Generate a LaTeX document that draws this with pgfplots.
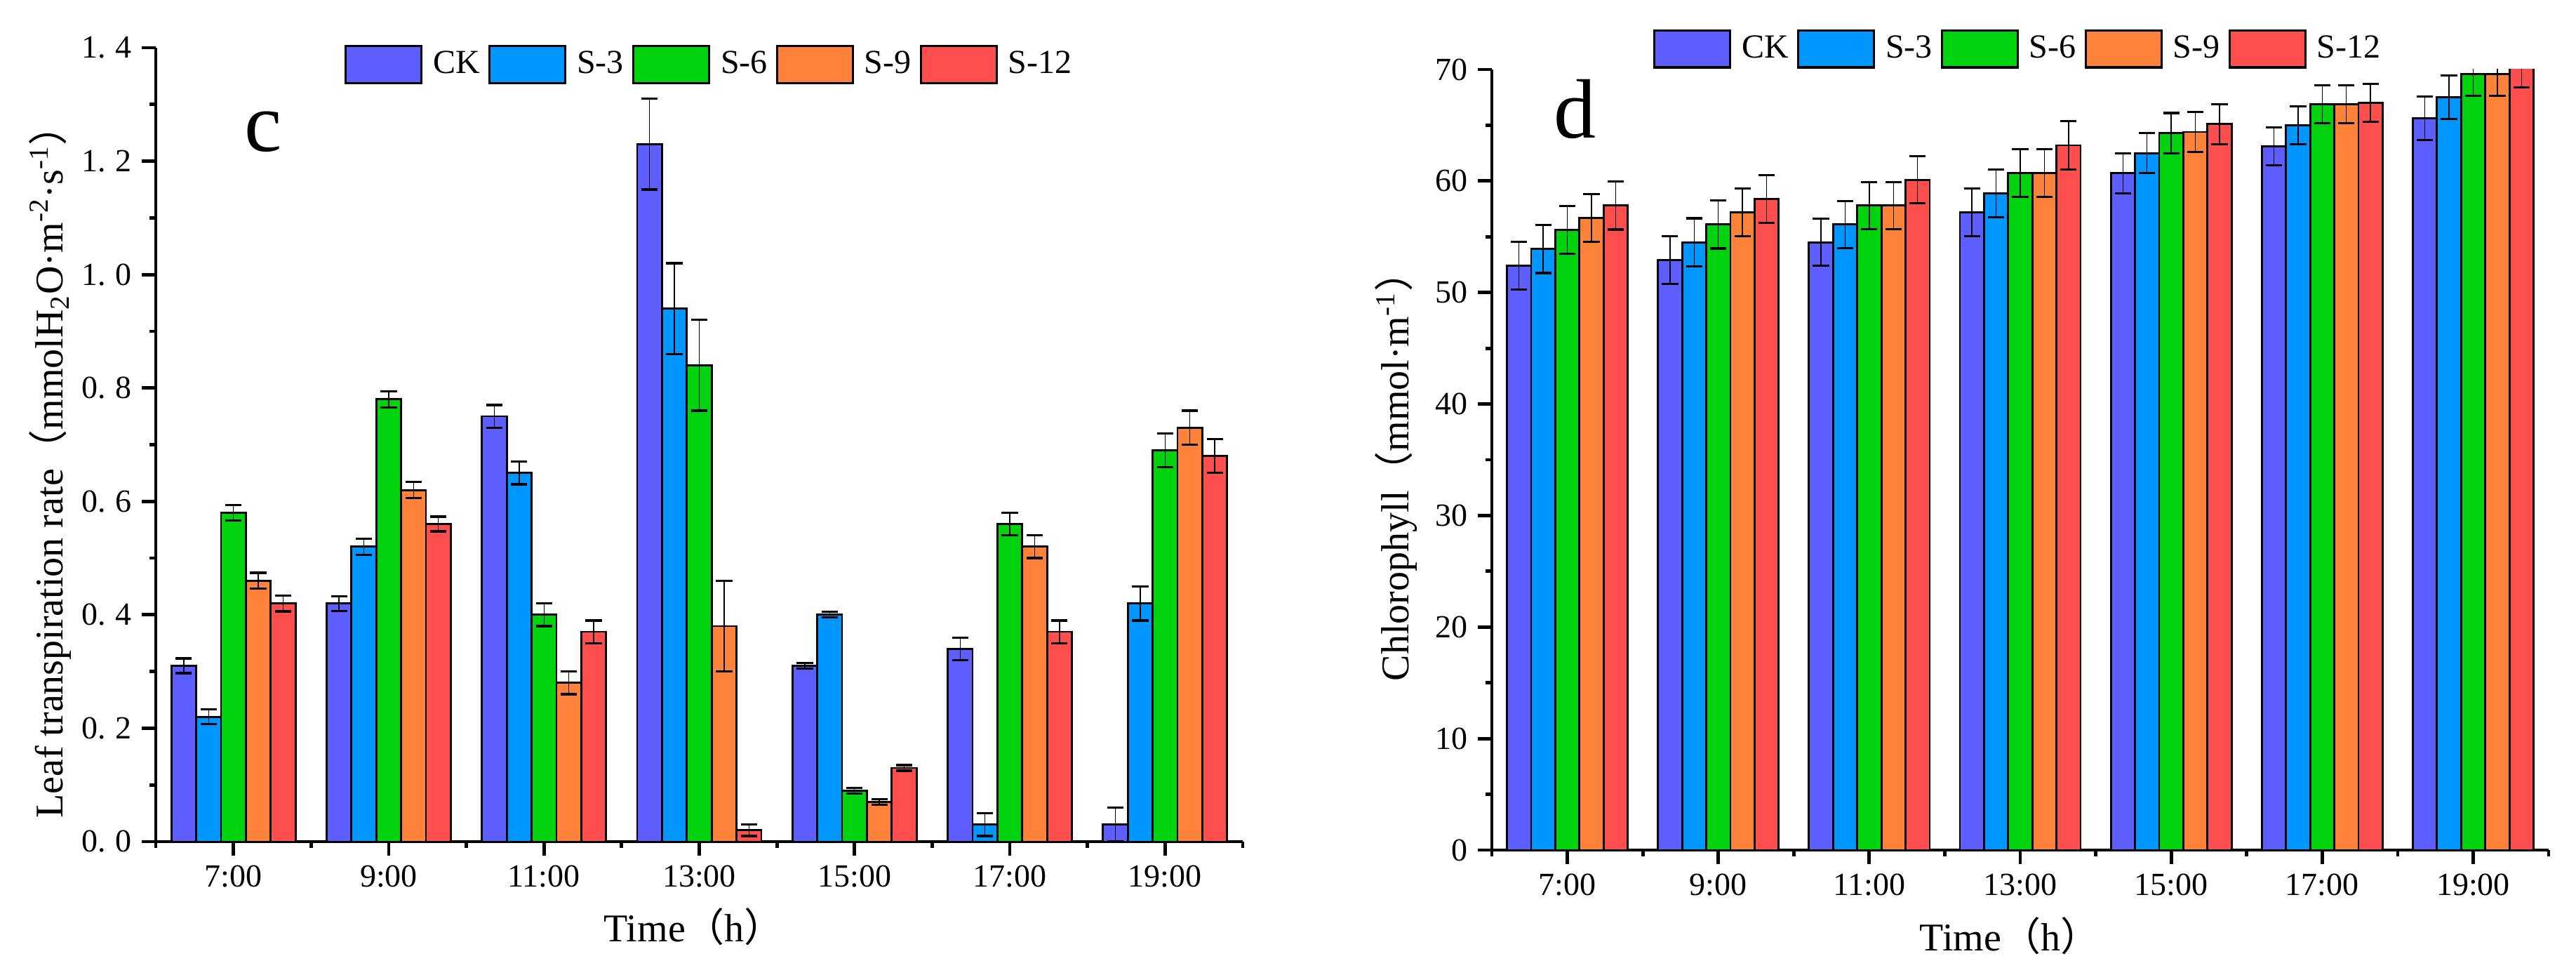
\documentclass[border=0pt]{standalone}
\usepackage{fontspec}
\setmainfont{Liberation Serif}
\newfontfamily\cjk{Noto Sans CJK SC}
\usepackage{pgfplots}
\pgfplotsset{compat=1.18}
\definecolor{cCK}{RGB}{94,94,255}
\definecolor{cS3}{RGB}{0,150,255}
\definecolor{cS6}{RGB}{0,210,14}
\definecolor{cS9}{RGB}{255,130,58}
\definecolor{cS12}{RGB}{255,78,78}
\newcommand{\lp}{{\cjk （}}
\newcommand{\rp}{{\cjk ）}}
\pgfplotsset{
  mylegend/.style={legend image code/.code={\draw[##1, draw=black, line width=0.8pt] (0pt,-6.6pt) rectangle (27pt,6.6pt);}},
  common/.style={
    scale only axis, anchor=south west,
    ybar=0pt, bar width=0.16,
    xmin=-0.5, xmax=6.5,
    xtick={0,1,2,3,4,5,6},
    xticklabels={7:00,9:00,11:00,13:00,15:00,17:00,19:00},
    minor xtick={-0.5,0.5,1.5,2.5,3.5,4.5,5.5,6.5},
    axis x line*=bottom, axis y line*=left,
    tick align=outside,
    major tick length=5pt, minor tick length=2.3pt,
    tick style={black, line width=1.2pt},
    axis line style={black, line width=1.2pt},
    ticklabel style={font=\fontsize{11.5}{13}\selectfont},
    label style={font=\fontsize{14}{16}\selectfont},
    /pgf/number format/assume math mode=true,
    legend columns=5,
    legend style={draw=none, fill=none, inner sep=0pt, outer sep=0pt,
      nodes={inner sep=0pt},
      font=\fontsize{12}{14}\selectfont,
      /tikz/every odd column/.append style={column sep=3.75pt},
      /tikz/every even column/.append style={column sep=3pt}},
    every axis plot post/.append style={draw=black, line width=0.7pt, mylegend},
    error bars/y dir=both, error bars/y explicit,
    error bars/error mark options={black, line width=0.8pt, mark size=2.9pt, rotate=90},
    error bars/error bar style={black, line width=0.35pt},
  }
}
\begin{document}
\begin{tikzpicture}
\useasboundingbox (0pt,0pt) rectangle (917.75pt,347.25pt);
% ---------------- panel c ----------------
\begin{axis}[common,
  at={(55.5pt,47.5pt)}, width=387.25pt, height=282.75pt,
  ymin=0, ymax=1.4,
  ytick={0,0.2,0.4,0.6,0.8,1.0,1.2,1.4},
  yticklabels={0.\hspace{0.3em}0,0.\hspace{0.3em}2,0.\hspace{0.3em}4,0.\hspace{0.3em}6,0.\hspace{0.3em}8,1.\hspace{0.3em}0,1.\hspace{0.3em}2,1.\hspace{0.3em}4},
  minor ytick={0.1,0.3,0.5,0.7,0.9,1.1,1.3},
  xlabel={Time\lp h\rp},
  xlabel style={at={(axis description cs:0.495,-0.107)}, anchor=center},
  ylabel={Leaf transpiration rate\lp mmolH\textsubscript{2}O·m\textsuperscript{-2}·s\textsuperscript{-1}\rp},
  ylabel style={at={(axis description cs:-0.097,0.478)}, anchor=center},
  legend style={at={(0.1737,0.979)}, anchor=west},
]
\addplot[fill=cCK] coordinates {(0,0.31)+-(0,0.013) (1,0.42)+-(0,0.013) (2,0.75)+-(0,0.02) (3,1.23)+-(0,0.08) (4,0.31)+-(0,0.005) (5,0.34)+-(0,0.02) (6,0.03)+-(0,0.03)};
\addplot[fill=cS3] coordinates {(0,0.22)+-(0,0.013) (1,0.52)+-(0,0.014) (2,0.65)+-(0,0.02) (3,0.94)+-(0,0.08) (4,0.40)+-(0,0.005) (5,0.03)+-(0,0.02) (6,0.42)+-(0,0.03)};
\addplot[fill=cS6] coordinates {(0,0.58)+-(0,0.014) (1,0.78)+-(0,0.014) (2,0.40)+-(0,0.02) (3,0.84)+-(0,0.08) (4,0.09)+-(0,0.005) (5,0.56)+-(0,0.02) (6,0.69)+-(0,0.03)};
\addplot[fill=cS9] coordinates {(0,0.46)+-(0,0.014) (1,0.62)+-(0,0.014) (2,0.28)+-(0,0.02) (3,0.38)+-(0,0.08) (4,0.07)+-(0,0.005) (5,0.52)+-(0,0.02) (6,0.73)+-(0,0.03)};
\addplot[fill=cS12] coordinates {(0,0.42)+-(0,0.014) (1,0.56)+-(0,0.013) (2,0.37)+-(0,0.02) (3,0.02)+-(0,0.01) (4,0.13)+-(0,0.005) (5,0.37)+-(0,0.02) (6,0.68)+-(0,0.03)};
\legend{CK,S-3,S-6,S-9,S-12}
\node[anchor=base west, inner sep=0pt, font=\fontsize{30}{30}\selectfont] at (rel axis cs:0.0813,0.870) {c};
\end{axis}
% ---------------- panel d ----------------
\begin{axis}[common,
  at={(531.5pt,44.5pt)}, width=376.5pt, height=278pt,
  ymin=0, ymax=70,
  ytick={0,10,20,30,40,50,60,70},
  minor ytick={5,15,25,35,45,55,65},
  xlabel={Time\lp h\rp},
  xlabel style={at={(axis description cs:0.49,-0.11)}, anchor=center},
  ylabel={Chlorophyll\lp mmol·m\textsuperscript{-1}\rp},
  ylabel style={at={(axis description cs:-0.0903,0.491)}, anchor=center},
  legend style={at={(0.1527,1.0265)}, anchor=west},
]
\addplot[fill=cCK] coordinates {(0,52.4)+-(0,2.15) (1,52.9)+-(0,2.15) (2,54.5)+-(0,2.1) (3,57.2)+-(0,2.15) (4,60.7)+-(0,1.8) (5,63.1)+-(0,1.7) (6,65.6)+-(0,1.95)};
\addplot[fill=cS3] coordinates {(0,53.9)+-(0,2.15) (1,54.5)+-(0,2.15) (2,56.1)+-(0,2.1) (3,58.9)+-(0,2.15) (4,62.5)+-(0,1.8) (5,65.0)+-(0,1.7) (6,67.5)+-(0,1.95)};
\addplot[fill=cS6] coordinates {(0,55.6)+-(0,2.15) (1,56.1)+-(0,2.15) (2,57.8)+-(0,2.1) (3,60.7)+-(0,2.15) (4,64.3)+-(0,1.8) (5,66.9)+-(0,1.7) (6,69.6)+-(0,1.95)};
\addplot[fill=cS9] coordinates {(0,56.7)+-(0,2.15) (1,57.2)+-(0,2.15) (2,57.8)+-(0,2.1) (3,60.7)+-(0,2.15) (4,64.4)+-(0,1.8) (5,66.9)+-(0,1.7) (6,69.6)+-(0,1.95)};
\addplot[fill=cS12] coordinates {(0,57.8)+-(0,2.15) (1,58.4)+-(0,2.15) (2,60.1)+-(0,2.1) (3,63.2)+-(0,2.15) (4,65.1)+-(0,1.8) (5,67.0)+-(0,1.7) (6,70.4)+-(0,2.0)};
\legend{CK,S-3,S-6,S-9,S-12}
\node[anchor=base west, inner sep=0pt, font=\fontsize{30}{30}\selectfont] at (rel axis cs:0.0584,0.912) {d};
\end{axis}
\end{tikzpicture}
\end{document}
